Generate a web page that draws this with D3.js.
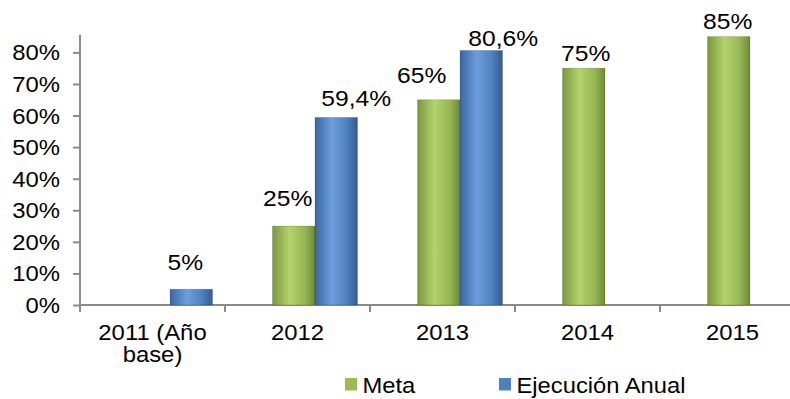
<!DOCTYPE html>
<html>
<head>
<meta charset="utf-8">
<script src="https://cdn.jsdelivr.net/npm/d3@7"></script>
<style>
  body { margin: 0; background: #fff; }
  text { font-family: "Liberation Sans", Arial, sans-serif; fill: #000; }
</style>
</head>
<body>
<svg id="chart"></svg>
<script>
// data
const categories = ['2011 (Año base)', '2012', '2013', '2014', '2015'];
const categoryLines = [['2011 (Año', 'base)'], ['2012'], ['2013'], ['2014'], ['2015']];
const seriesNames = ['Meta', 'Ejecución Anual'];
const meta = [null, 0.25, 0.65, 0.75, 0.85];
const ejecucion = [0.05, 0.594, 0.806, null, null];
const metaLabels = ['', '25%', '65%', '75%', '85%'];
const ejecucionLabels = ['5%', '59,4%', '80,6%', '', ''];
const yTicks = [0, 0.1, 0.2, 0.3, 0.4, 0.5, 0.6, 0.7, 0.8];

// label nudges (layout only): [dx, gap above bar]
const metaNudge = [[0, 0], [-6, 20], [-17, 17], [2, 7], [-1, 8]];
const ejecNudge = [[-6, 19], [20, 11], [22, 4.5], [0, 0], [0, 0]];

const W = 790, H = 399;
const stretch = 1.12;   // text in the picture is slightly wide
const fontSize = 21.3;

const svg = d3.select('#chart').attr('width', W).attr('height', H);

const defs = svg.append('defs');
function grad(id, stops) {
    const g = defs.append('linearGradient').attr('id', id)
        .attr('x1', '0%').attr('x2', '100%').attr('y1', '0%').attr('y2', '0%');
    stops.forEach(s => g.append('stop').attr('offset', s[0]).attr('stop-color', s[1]));
}
grad('gGreen', [['0%', '#7a973f'], ['40%', '#b3d36d'], ['75%', '#98b756'], ['100%', '#6f8a38']]);
grad('gBlue', [['0%', '#3b67a2'], ['40%', '#6c9ddd'], ['75%', '#4f80c0'], ['100%', '#365b8f']]);

const x = d3.scaleBand().domain(categories).range([80, 805]).padding(0);
const y = d3.scaleLinear().domain([0, 0.855]).range([305, 35]);

const barW = 42.5;
const pairShift = 17.5;
const pairCenter = c => x(c) + x.bandwidth() / 2 + pairShift;

// axes
const axisColor = '#8a8a8a';
const yAxis = svg.append('g').attr('transform', 'translate(80,0)')
    .call(d3.axisLeft(y).tickValues(yTicks).tickSize(7).tickFormat(d3.format('.0%')));
const xAxis = svg.append('g').attr('transform', 'translate(0,305)')
    .call(d3.axisBottom(x).tickValues(categories.slice(1)).tickSize(7).tickFormat(''));
[yAxis, xAxis].forEach(a => {
    a.select('.domain').attr('stroke', axisColor).attr('stroke-width', 2);
    a.selectAll('.tick line').attr('stroke', axisColor).attr('stroke-width', 2);
});
xAxis.selectAll('.tick line').attr('transform', d => `translate(${-x.bandwidth() / 2},0)`);
xAxis.select('.domain').attr('d', 'M80,0H790');
yAxis.select('.domain').attr('d', `M0,${y.range()[1]}V312`);

yAxis.selectAll('.tick text')
    .attr('x', null).attr('dy', null)
    .attr('transform', `translate(-20,7.5) scale(${stretch},1)`)
    .style('font-size', fontSize + 'px')
    .attr('text-anchor', 'end');

// category labels
const catG = svg.append('g');
categories.forEach((c, i) => {
    categoryLines[i].forEach((line, j) => {
        catG.append('text')
            .attr('transform', `translate(${x(c) + x.bandwidth() / 2},${340 + j * 22}) scale(${stretch},1)`)
            .attr('text-anchor', 'middle')
            .style('font-size', fontSize + 'px')
            .text(line);
    });
});

// bars
const bars = svg.append('g');
const rows = [];
categories.forEach((c, i) => {
    if (meta[i] != null) rows.push({c, v: meta[i], s: 0, label: metaLabels[i], nudge: metaNudge[i]});
    if (ejecucion[i] != null) rows.push({c, v: ejecucion[i], s: 1, label: ejecucionLabels[i], nudge: ejecNudge[i]});
});

bars.selectAll('rect')
    .data(rows)
    .join('rect')
    .attr('x', d => pairCenter(d.c) + (d.s === 0 ? -barW : 0))
    .attr('y', d => y(d.v))
    .attr('width', barW)
    .attr('height', d => y(0) - y(d.v))
    .attr('fill', d => d.s === 0 ? 'url(#gGreen)' : 'url(#gBlue)')
    .attr('stroke', 'rgba(0,0,0,0.18)')
    .attr('stroke-width', 0.8);

svg.append('g').selectAll('text')
    .data(rows)
    .join('text')
    .attr('transform', d => {
        const cx = pairCenter(d.c) + (d.s === 0 ? -barW / 2 : barW / 2) + d.nudge[0];
        return `translate(${cx},${y(d.v) - d.nudge[1]}) scale(${stretch},1)`;
    })
    .attr('text-anchor', 'middle')
    .style('font-size', '22px')
    .text(d => d.label);

// legend
const legendX = [345, 499];
const legend = svg.append('g');
seriesNames.forEach((name, i) => {
    legend.append('rect')
        .attr('x', legendX[i]).attr('y', 378)
        .attr('width', 12).attr('height', 12.5)
        .attr('fill', i === 0 ? '#9bbb59' : '#4f81bd');
    legend.append('text')
        .attr('transform', `translate(${legendX[i] + 17.5},393) scale(1.08,1)`)
        .style('font-size', '22px')
        .text(name);
});
</script>
</body>
</html>
